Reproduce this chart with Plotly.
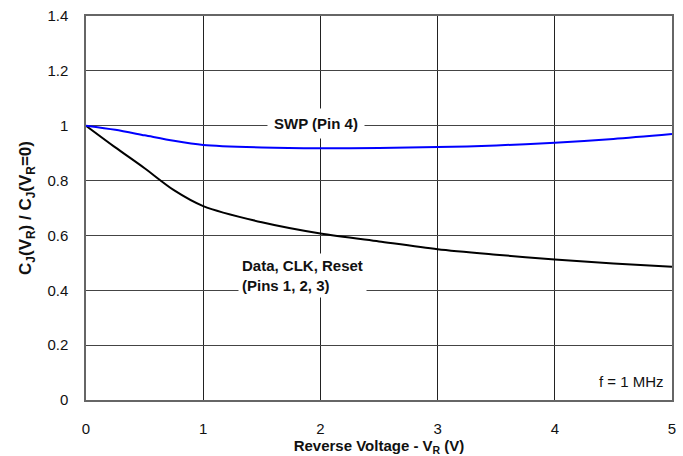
import plotly.graph_objects as go

# Reverse voltage (V)
v_r = [0, 0.25, 0.5, 0.75, 1, 1.5, 2, 2.5, 3, 3.5, 4, 4.5, 5]
# Normalized junction capacitance, SWP pin 4
swp_pin4 = [1.0, 0.985, 0.965, 0.945, 0.930, 0.921, 0.918, 0.919, 0.922, 0.928, 0.938, 0.952, 0.970]
# Normalized junction capacitance, Data / CLK / Reset pins 1-3
data_clk_reset = [1.0, 0.921, 0.845, 0.765, 0.707, 0.648, 0.607, 0.578, 0.550, 0.530, 0.512, 0.498, 0.486]

x_ticks = [0, 1, 2, 3, 4, 5]
y_ticks = [0, 0.2, 0.4, 0.6, 0.8, 1, 1.2, 1.4]
y_tick_text = ["0", "0.2", "0.4", "0.6", "0.8", "1", "1.2", "1.4"]

FONT = "Liberation Sans, Arial, Helvetica, sans-serif"

fig = go.Figure()
fig.add_trace(go.Scatter(x=v_r, y=data_clk_reset, mode="lines",
                         line=dict(color="#000000", width=2, shape="spline", smoothing=0.8),
                         hoverinfo="skip"))
fig.add_trace(go.Scatter(x=v_r, y=swp_pin4, mode="lines",
                         line=dict(color="#0000ff", width=2, shape="spline", smoothing=0.8),
                         hoverinfo="skip"))

fig.add_annotation(x=1.966, y=1.008, text="<b>SWP (Pin 4)</b>", showarrow=False,
                   font=dict(family=FONT, size=15, color="#111"),
                   bgcolor="white", borderpad=6)
fig.add_annotation(x=1.847, y=0.4545, text="<b>Data, CLK, Reset<br>(Pins 1, 2, 3)</b>",
                   showarrow=False, align="left",
                   font=dict(family=FONT, size=15, color="#111"),
                   bgcolor="white", borderpad=3)
fig.add_annotation(x=4.95, y=0.067, text="f = 1 MHz", showarrow=False, xanchor="right",
                   font=dict(family=FONT, size=15, color="#111"))

fig.update_layout(
    width=683, height=456,
    margin=dict(l=86, r=7, t=16, b=56),
    paper_bgcolor="white", plot_bgcolor="white",
    showlegend=False,
    font=dict(family=FONT, size=15, color="#111"),
    xaxis=dict(range=[0, 5], tickvals=x_ticks, ticks="", ticklabelstandoff=14,
               showgrid=True, gridcolor="#222", gridwidth=1, zeroline=False,
               showline=True, linecolor="#666", linewidth=1.5, mirror=True,
               tickfont=dict(family=FONT, size=15, color="#111"),
               title=dict(text="<b>Reverse Voltage - V<sub>R</sub> (V)</b>",
                          font=dict(family=FONT, size=15, color="#111"), standoff=0)),
    yaxis=dict(range=[0, 1.4], tickvals=y_ticks, ticktext=y_tick_text, ticks="",
               ticklabelstandoff=13,
               showgrid=True, gridcolor="#444", gridwidth=1, zeroline=False,
               showline=True, linecolor="#666", linewidth=1.5, mirror=True,
               tickfont=dict(family=FONT, size=15, color="#111"),
               title=dict(text="<b>C<sub>J</sub>(V<sub>R</sub>) / C<sub>J</sub>(V<sub>R</sub>=0)</b>",
                          font=dict(family=FONT, size=17, color="#111"), standoff=11)),
)

fig.write_html("out.html")
